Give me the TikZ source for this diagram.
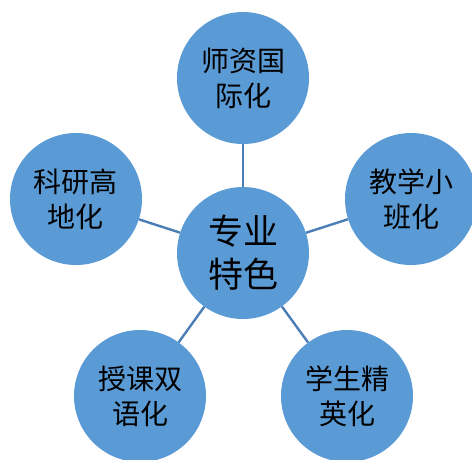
\documentclass[tikz,border=0pt]{standalone}
\usepackage{fontspec}
\newfontfamily\cjk{Noto Sans CJK SC}
\definecolor{ballblue}{HTML}{5B9BD5}
\definecolor{linkblue}{HTML}{4A7EB5}
\begin{document}
\begin{tikzpicture}[x=1pt,y=-1pt]
\tikzset{ball/.style={circle,fill=ballblue,minimum size=132pt,inner sep=0pt,align=center,font=\cjk\fontsize{28}{35}\selectfont}}
\tikzset{hub/.style={ball,font=\cjk\fontsize{35}{43}\selectfont}}
\tikzset{link/.style={draw=linkblue,line width=2.4pt}}
\useasboundingbox (0,0) rectangle (472,459);
\node[hub] (core) at (243,253) {专业\\特色};
\node[ball] (top) at (243,78) {师资国\\际化};
\node[ball] (right) at (411,199) {教学小\\班化};
\node[ball] (left) at (76,199) {科研高\\地化};
\node[ball] (botl) at (140,396) {授课双\\语化};
\node[ball] (botr) at (347,396) {学生精\\英化};
\draw[link] (core) -- (top);
\draw[link] (core) -- (right);
\draw[link] (core) -- (left);
\draw[link] (core) -- (botl);
\draw[link] (core) -- (botr);
\end{tikzpicture}
\end{document}
